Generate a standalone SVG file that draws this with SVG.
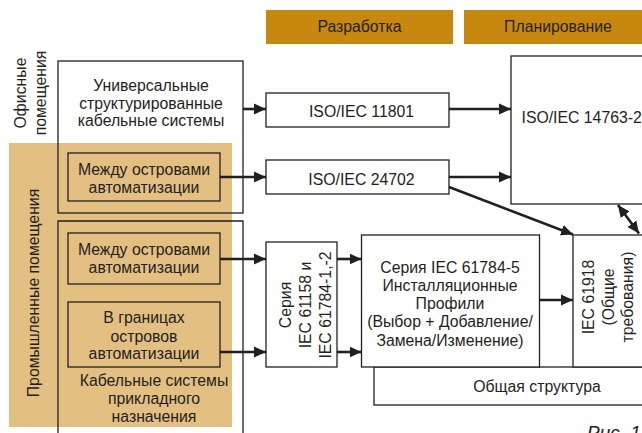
<svg xmlns="http://www.w3.org/2000/svg" width="642" height="433" viewBox="0 0 642 433">
<defs>
<style>
text{font-family:"Liberation Sans",Arial,sans-serif;font-size:15.8px;fill:#231f20}
.c{text-anchor:middle}
.box{fill:#fff;stroke:#231f20;stroke-width:1.3}
.ibox{fill:none;stroke:#231f20;stroke-width:1.3}
.hdr{fill:#c8870f}
.con{stroke:#231f20;stroke-width:2.6;fill:none}
</style>
<marker id="ah" markerUnits="userSpaceOnUse" markerWidth="14" markerHeight="14" viewBox="0 0 14 14" refX="12" refY="7" orient="auto-start-reverse">
<path d="M0,1.5 L12,7 L0,12.5 Z" fill="#231f20"/>
</marker>
</defs>
<rect width="642" height="433" fill="#fff"/>

<g id="headers">
<rect class="hdr" x="266" y="10" width="187" height="34"/>
<text class="c" x="359.5" y="31.5">Разработка</text>
<rect class="hdr" x="464" y="10" width="180" height="34"/>
<text class="c" x="558" y="31.5">Планирование</text>
</g>

<g id="industrial-zone">
<rect x="9" y="143" width="223" height="284" fill="#e3bf82"/>
<text class="c" transform="translate(38.5,293) rotate(-90)">Промышленные помещения</text>
</g>

<g id="office-label">
<text class="c" transform="translate(26,93) rotate(-90)">Офисные</text>
<text class="c" transform="translate(45.5,93) rotate(-90)">помещения</text>
</g>

<g id="office-box">
<rect class="ibox" x="58" y="61" width="185" height="152"/>
<text class="c" x="151" y="90.5">Универсальные</text>
<text class="c" x="151" y="108.5">структурированные</text>
<text class="c" x="151" y="126">кабельные системы</text>
</g>

<g id="between-islands-1">
<rect class="ibox" x="68" y="153" width="152" height="48"/>
<text class="c" x="144" y="175">Между островами</text>
<text class="c" x="144" y="192.5">автоматизации</text>
</g>

<g id="industrial-box">
<path class="ibox" d="M58,433 V221 H243 V433"/>
<text class="c" x="154" y="385.5">Кабельные системы</text>
<text class="c" x="154" y="403.5">прикладного</text>
<text class="c" x="154" y="421.5">назначения</text>
</g>

<g id="between-islands-2">
<rect class="ibox" x="68" y="233" width="152" height="51"/>
<text class="c" x="144" y="255">Между островами</text>
<text class="c" x="144" y="272.5">автоматизации</text>
</g>

<g id="within-islands">
<rect class="ibox" x="68" y="302" width="152" height="65"/>
<text class="c" x="144" y="323">В границах</text>
<text class="c" x="144" y="341.5">островов</text>
<text class="c" x="144" y="359">автоматизации</text>
</g>

<g id="iso11801">
<rect class="box" x="266" y="93" width="183" height="34"/>
<text class="c" x="361.5" y="117">ISO/IEC 11801</text>
</g>

<g id="iso24702">
<rect class="box" x="266" y="160" width="183" height="34"/>
<text class="c" x="361.5" y="184.5">ISO/IEC 24702</text>
</g>

<g id="iso14763">
<rect class="box" x="511" y="56" width="140" height="148"/>
<text x="521.5" y="122.5">ISO/IEC 14763-2</text>
</g>

<g id="iec61158">
<rect class="box" x="266" y="242" width="71" height="125"/>
<text class="c" transform="translate(290.5,305) rotate(-90)">Серия</text>
<text class="c" transform="translate(310.5,305) rotate(-90)">IEC 61158 и</text>
<text class="c" transform="translate(330.5,305) rotate(-90)">IEC 61784-1,-2</text>
</g>

<g id="common-structure">
<rect class="box" x="374" y="367" width="280" height="38"/>
<text class="c" x="537" y="392">Общая структура</text>
</g>

<g id="iec61784-5">
<rect class="box" x="361.5" y="235" width="178" height="132"/>
<text class="c" x="450" y="272.5">Серия IEC 61784-5</text>
<text class="c" x="450" y="290.5">Инсталляционные</text>
<text class="c" x="450" y="308.5">Профили</text>
<text class="c" x="450" y="327">(Выбор + Добавление/</text>
<text class="c" x="450" y="345.5">Замена/Изменение)</text>
</g>

<g id="iec61918">
<rect class="box" x="573" y="235" width="80" height="132"/>
<text class="c" transform="translate(594,297) rotate(-90)">IEC 61918</text>
<text class="c" transform="translate(613.5,297) rotate(-90)">(Общие</text>
<text class="c" transform="translate(633,297) rotate(-90)">требования)</text>
</g>

<g id="connectors">
<line class="con" x1="243" y1="109" x2="266" y2="109" marker-end="url(#ah)"/>
<line class="con" x1="220" y1="177" x2="266" y2="177" marker-end="url(#ah)"/>
<line class="con" x1="449" y1="109" x2="511" y2="109" marker-end="url(#ah)"/>
<line class="con" x1="449" y1="177" x2="511" y2="177" marker-end="url(#ah)"/>
<line class="con" x1="449" y1="187" x2="573" y2="234.5" marker-end="url(#ah)"/>
<line class="con" x1="618" y1="205" x2="639" y2="233.5" marker-start="url(#ah)" marker-end="url(#ah)"/>
<line class="con" x1="220" y1="259" x2="266" y2="259" marker-end="url(#ah)"/>
<line class="con" x1="220" y1="352" x2="266" y2="352" marker-end="url(#ah)"/>
<line class="con" x1="337" y1="259" x2="361.5" y2="259" marker-end="url(#ah)"/>
<line class="con" x1="337" y1="352" x2="361.5" y2="352" marker-end="url(#ah)"/>
<line class="con" x1="539.5" y1="300" x2="573" y2="300" marker-end="url(#ah)"/>
</g>

<text x="587" y="439" style="font-style:italic;font-size:19px">Рис. 1</text>
</svg>
